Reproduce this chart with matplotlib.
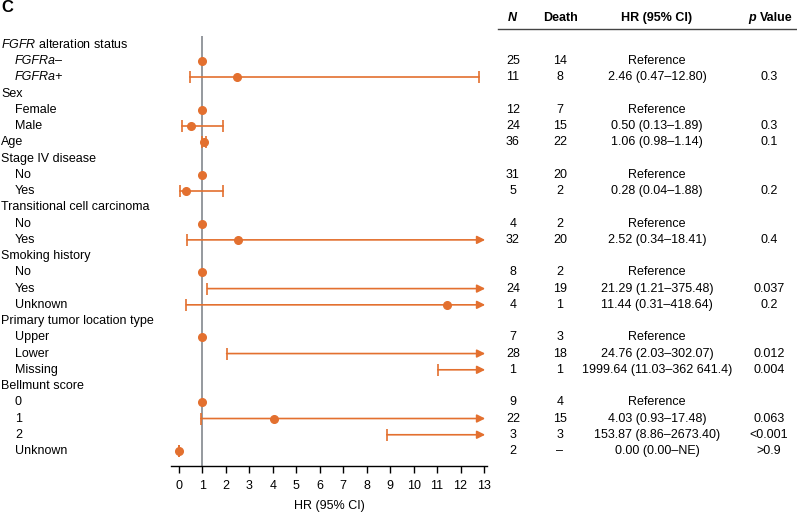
import numpy as np
import matplotlib
matplotlib.use('Agg')
import matplotlib.pyplot as plt
from matplotlib import transforms
from matplotlib.lines import Line2D

plt.rcParams['font.family'] = ['Liberation Sans', 'DejaVu Sans']
plt.rcParams['mathtext.fontset'] = 'custom'
plt.rcParams['mathtext.rm'] = 'Liberation Sans'
plt.rcParams['mathtext.it'] = 'Liberation Sans:italic'

ORANGE = '#E3702F'
GREY = '#8C9196'

# rows of the forest plot (top to bottom)
labels = [r'$\it{FGFR}$ alteration status', 'FGFRa\u2013', 'FGFRa+',
          'Sex', 'Female', 'Male', 'Age',
          'Stage IV disease', 'No', 'Yes',
          'Transitional cell carcinoma', 'No', 'Yes',
          'Smoking history', 'No', 'Yes', 'Unknown',
          'Primary tumor location type', 'Upper', 'Lower', 'Missing',
          'Bellmunt score', '0', '1', '2', 'Unknown']
indented = [0, 1, 1, 0, 1, 1, 0, 0, 1, 1, 0, 1, 1, 0, 1, 1, 1, 0, 1, 1, 1, 0, 1, 1, 1, 1]
italic_rows = [1, 2]

n_vals = ['', '25', '11', '', '12', '24', '36', '', '31', '5', '', '4', '32',
          '', '8', '24', '4', '', '7', '28', '1', '', '9', '22', '3', '2']
deaths = ['', '14', '8', '', '7', '15', '22', '', '20', '2', '', '2', '20',
          '', '2', '19', '1', '', '3', '18', '1', '', '4', '15', '3', '\u2013']

# 'ref' = reference level, None = group header
hr = [None, 'ref', 2.46, None, 'ref', 0.50, 1.06, None, 'ref', 0.28, None, 'ref', 2.52,
      None, 'ref', 21.29, 11.44, None, 'ref', 24.76, 1999.64, None, 'ref', 4.03, 153.87, 0.00]
ci_lo = [None, None, 0.47, None, None, 0.13, 0.98, None, None, 0.04, None, None, 0.34,
         None, None, 1.21, 0.31, None, None, 2.03, 11.03, None, None, 0.93, 8.86, 0.00]
ci_hi = [None, None, 12.80, None, None, 1.89, 1.14, None, None, 1.88, None, None, 18.41,
         None, None, 375.48, 418.64, None, None, 302.07, 362641.4, None, None, 17.48, 2673.40, np.nan]

hr_text = ['', 'Reference', '2.46 (0.47\u201312.80)', '', 'Reference', '0.50 (0.13\u20131.89)',
           '1.06 (0.98\u20131.14)', '', 'Reference', '0.28 (0.04\u20131.88)', '', 'Reference',
           '2.52 (0.34\u201318.41)', '', 'Reference', '21.29 (1.21\u2013375.48)',
           '11.44 (0.31\u2013418.64)', '', 'Reference', '24.76 (2.03\u2013302.07)',
           '1999.64 (11.03\u2013362 641.4)', '', 'Reference', '4.03 (0.93\u201317.48)',
           '153.87 (8.86\u20132673.40)', '0.00 (0.00\u2013NE)']
p_text = ['', '', '0.3', '', '', '0.3', '0.1', '', '', '0.2', '', '', '0.4',
          '', '', '0.037', '0.2', '', '', '0.012', '0.004', '', '', '0.063', '<0.001', '>0.9']

x_ticks = list(range(0, 14))
x_max = 13

W, H = 797, 512
fig = plt.figure(figsize=(W / 100, H / 100), dpi=100)

# axes placed in pixels: x from 171 to 487, y from 36 to 466
ax = fig.add_axes([171 / W, 1 - 466 / H, (487 - 171) / W, (466 - 36) / H])
px_per_unit = (484 - 179) / 13
ax.set_xlim(-8 / px_per_unit, 13 + 3 / px_per_unit)
row0, row_step = 45, 16.24
ax.set_ylim((466 - row0) / row_step, -(row0 - 36) / row_step)

ax.axvline(1, color=GREY, lw=1.3, zorder=1)

fs = 9
for i, h in enumerate(hr):
    if h is None:
        continue
    if h == 'ref':
        ax.plot(1, i, 'o', color=ORANGE, ms=5.5, zorder=3)
        continue
    lo, hi = ci_lo[i], ci_hi[i]
    if not np.isnan(hi) and hi > x_max:
        ax.annotate('', xy=(x_max + 0.05, i), xytext=(lo, i),
                    arrowprops=dict(arrowstyle='-|>', color=ORANGE, lw=1.2,
                                    mutation_scale=12, shrinkA=0, shrinkB=0),
                    zorder=2)
    else:
        end = lo if np.isnan(hi) else hi
        ax.plot([lo, end], [i, i], color=ORANGE, lw=1.2, zorder=2)
        ax.plot(end, i, marker='|', color=ORANGE, ms=8, mew=1.2, zorder=2)
    ax.plot(lo, i, marker='|', color=ORANGE, ms=8, mew=1.2, zorder=2)
    if h <= x_max:
        ax.plot(h, i, 'o', color=ORANGE, ms=5.5, zorder=3)

for s in ['left', 'top', 'right']:
    ax.spines[s].set_visible(False)
ax.spines['bottom'].set_linewidth(1.0)
ax.set_yticks([])
ax.set_xticks(x_ticks)
ax.tick_params(axis='x', length=5, width=1.0, labelsize=fs, pad=5)
ax.set_xlabel('HR (95% CI)', fontsize=fs, labelpad=6)

# text columns
tr = transforms.blended_transform_factory(fig.transFigure, ax.transData)
for i, lab in enumerate(labels):
    x = (15 if indented[i] else 1) / W
    style = 'italic' if i in italic_rows else 'normal'
    ax.text(x, i, lab, transform=tr, fontsize=fs, va='center', ha='left',
            fontstyle=style, clip_on=False)
    ax.text(513 / W, i, n_vals[i], transform=tr, fontsize=fs, va='center', ha='center')
    ax.text(560 / W, i, deaths[i], transform=tr, fontsize=fs, va='center', ha='center')
    ax.text(657 / W, i, hr_text[i], transform=tr, fontsize=fs, va='center', ha='center')
    ax.text(769 / W, i, p_text[i], transform=tr, fontsize=fs, va='center', ha='center')

hy = 1 - 18 / H
fig.text(512 / W, hy, 'N', fontsize=fs, fontweight='bold', fontstyle='italic', ha='center', va='center')
fig.text(561 / W, hy, 'Death', fontsize=fs, fontweight='bold', ha='center', va='center')
fig.text(657 / W, hy, 'HR (95% CI)', fontsize=fs, fontweight='bold', ha='center', va='center')
fig.text(748 / W, hy, 'p', fontsize=fs, fontweight='bold', fontstyle='italic', ha='left', va='center')
fig.text(760 / W, hy, 'Value', fontsize=fs, fontweight='bold', ha='left', va='center')
fig.add_artist(Line2D([498 / W, 1.0], [1 - 29 / H, 1 - 29 / H], color='#444444', lw=1.0))

fig.text(1 / W, 1 - 8 / H, 'C', fontsize=12, fontweight='bold', ha='left', va='center')

fig.savefig('out.png', dpi=100)
